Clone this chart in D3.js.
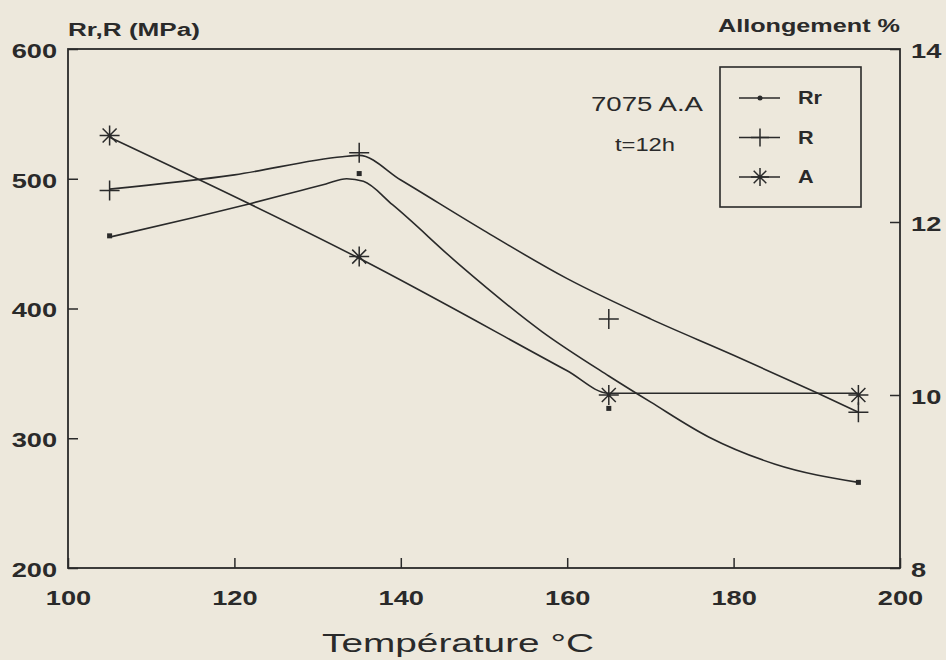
<!DOCTYPE html>
<html>
<head>
<meta charset="utf-8">
<script src="https://cdnjs.cloudflare.com/ajax/libs/d3/7.8.5/d3.min.js"></script>
<style>
    body { margin: 0; background: #ede8dc; }
    svg { display: block; }
    text { font-family: "Liberation Sans", Arial, sans-serif; fill: #2a2a2a; }
</style>
</head>
<body>
<div id="chart"></div>
<script>

// measured points
var temps = [105, 135, 165, 195];
var rrValues = [456, 504, 323, 266];
var rValues = [491, 520, 392, 320];
var aValues = [13.0, 11.6, 10.0, 10.0];

// hand drawn fitted curves
var rrCurveT = [105, 115, 122, 128, 131, 133.5, 135.5, 139, 147, 157, 165, 170, 177, 185, 195];
var rrCurveV = [455, 470, 481, 491, 496, 500, 498, 480, 434, 382, 348, 328, 301, 280, 266];
var rCurveT = [105, 120, 133, 135, 140, 150, 160, 170, 180, 190, 195];
var rCurveV = [492, 503, 517, 518, 499, 460, 423, 392, 364, 335, 320];
var aCurveT = [105, 135, 160, 165, 195];
var aCurveV = [12.98, 11.58, 10.28, 10.02, 10.02];

var xTicks = [100, 120, 140, 160, 180, 200];
var yTicks = [200, 300, 400, 500, 600];
var aTicks = [8, 10, 12, 14];

var seriesNames = ['Rr', 'R', 'A'];

var width = 946;
var height = 660;
var margin = { top: 49, right: 46, bottom: 92, left: 68 };
var stretch = 1.38;
var ink = '#2a2a2a';

var svg = d3.select('#chart')
    .append('svg')
    .attr('width', width)
    .attr('height', height);

svg.append('rect')
    .attr('width', width)
    .attr('height', height)
    .attr('fill', '#ede8dc');

var g = svg.append('g')
    .attr('transform', 'translate(' + margin.left + ',' + margin.top + ')');

width = width - margin.left - margin.right;
height = height - margin.top - margin.bottom;

var x_scale = d3.scaleLinear().domain([100, 200]).range([0, width]);
var y_scale = d3.scaleLinear().domain([200, 600]).range([height, 0]);
var a_scale = d3.scaleLinear().domain([8, 14]).range([height, 0]);

// the scanned lettering is wide, stretch text horizontally
function widen(sel, k) {
    sel.each(function() {
        var w = this.getComputedTextLength();
        d3.select(this)
            .attr('textLength', w * k)
            .attr('lengthAdjust', 'spacingAndGlyphs');
    });
}

function styleAxis(ax) {
    ax.select('.domain').remove();
    ax.attr('font-family', null).attr('font-size', null);
    ax.selectAll('line').attr('stroke', ink).attr('stroke-width', 1.5);
    ax.selectAll('text')
        .style('font-size', '20px')
        .style('font-weight', 'bold')
        .attr('fill', ink)
        .call(widen, 1.36);
}

var xAxis = g.append('g')
    .attr('transform', 'translate(0,' + height + ')')
    .call(d3.axisBottom(x_scale).tickValues(xTicks).tickSize(-10).tickPadding(23));
styleAxis(xAxis);

var yAxis = g.append('g')
    .call(d3.axisLeft(y_scale).tickValues(yTicks).tickSize(-10).tickPadding(11));
styleAxis(yAxis);
yAxis.selectAll('text').attr('dy', '0.42em');

var aAxis = g.append('g')
    .attr('transform', 'translate(' + width + ',0)')
    .call(d3.axisRight(a_scale).tickValues(aTicks).tickFormat(d3.format('d')).tickSize(-10).tickPadding(11));
styleAxis(aAxis);
aAxis.selectAll('text').attr('dy', '0.4em');

// frame
g.append('rect')
    .attr('x', x_scale(100))
    .attr('y', y_scale(600))
    .attr('width', x_scale(200) - x_scale(100))
    .attr('height', y_scale(200) - y_scale(600))
    .attr('fill', 'none')
    .attr('stroke', ink)
    .attr('stroke-width', 1.8);

// curves
function zip(ts, vs) {
    return ts.map(function(t, i) { return { t: t, v: vs[i] }; });
}

function curveLine(scale) {
    return d3.line()
        .x(function(d) { return x_scale(d.t); })
        .y(function(d) { return scale(d.v); })
        .curve(d3.curveMonotoneX);
}

var curves = [
    { data: zip(rrCurveT, rrCurveV), scale: y_scale },
    { data: zip(rCurveT, rCurveV), scale: y_scale },
    { data: zip(aCurveT, aCurveV), scale: a_scale }
];

curves.forEach(function(c) {
    g.append('path')
        .datum(c.data)
        .attr('fill', 'none')
        .attr('stroke', ink)
        .attr('stroke-width', 1.6)
        .attr('d', curveLine(c.scale));
});

// markers
var plusPath = 'M-10,0H10M0,-10V10';
var starPath = 'M-10,0H10M0,-10V10M-7,-7L7,7M-7,7L7,-7';

function drawMarker(sel, kind, size) {
    if (kind === 'Rr') {
        sel.append('rect')
            .attr('x', -2.5 * size).attr('y', -2.5 * size)
            .attr('width', 5 * size).attr('height', 5 * size)
            .attr('fill', ink);
    } else {
        sel.append('path')
            .attr('d', kind === 'R' ? plusPath : starPath)
            .attr('transform', 'scale(' + size + ')')
            .attr('fill', 'none')
            .attr('stroke', ink)
            .attr('stroke-width', 1.5 / size);
    }
}

var points = [
    { name: 'Rr', values: rrValues, scale: y_scale },
    { name: 'R', values: rValues, scale: y_scale },
    { name: 'A', values: aValues, scale: a_scale }
];

points.forEach(function(s) {
    g.selectAll('.pt-' + s.name)
        .data(temps)
        .enter()
        .append('g')
        .attr('class', 'pt-' + s.name)
        .attr('transform', function(d, i) {
            return 'translate(' + x_scale(d) + ',' + s.scale(s.values[i]) + ')';
        })
        .each(function() { drawMarker(d3.select(this), s.name, 1); });
});

// legend
var legend = g.append('g')
    .attr('transform', 'translate(' + (x_scale(200) - 180) + ',' + 18 + ')');

legend.append('rect')
    .attr('width', 141)
    .attr('height', 140)
    .attr('fill', 'none')
    .attr('stroke', ink)
    .attr('stroke-width', 1.6);

var item = legend.selectAll('.item')
    .data(seriesNames)
    .enter()
    .append('g')
    .attr('class', 'item')
    .attr('transform', function(d, i) { return 'translate(0,' + (31 + i * 39.5) + ')'; });

item.append('line')
    .attr('x1', 19).attr('x2', 60)
    .attr('stroke', ink)
    .attr('stroke-width', 1.4);

item.append('g')
    .attr('transform', 'translate(40,0)')
    .each(function(d) {
        if (d === 'Rr') {
            d3.select(this).append('circle').attr('r', 2.5).attr('fill', ink);
        } else {
            drawMarker(d3.select(this), d, 0.9);
        }
    });

item.append('text')
    .attr('x', 78)
    .attr('dy', '0.36em')
    .style('font-size', '18px')
    .style('font-weight', 'bold')
    .text(function(d) { return d; })
    .call(widen, 1.2);

// annotations
g.append('text')
    .attr('x', x_scale(200) - 253)
    .attr('y', 62)
    .attr('text-anchor', 'middle')
    .style('font-size', '20px')
    .text('7075 A.A')
    .call(widen, stretch);

g.append('text')
    .attr('x', x_scale(200) - 255)
    .attr('y', 102)
    .attr('text-anchor', 'middle')
    .style('font-size', '19px')
    .text('t=12h')
    .call(widen, 1.25);

// axis titles
svg.append('text')
    .attr('x', margin.left)
    .attr('y', 36)
    .style('font-size', '18px')
    .style('font-weight', 'bold')
    .text('Rr,R (MPa)')
    .call(widen, 1.45);

svg.append('text')
    .attr('x', margin.left + width)
    .attr('y', 32)
    .attr('text-anchor', 'end')
    .style('font-size', '18px')
    .style('font-weight', 'bold')
    .text('Allongement %')
    .call(widen, 1.4);

svg.append('text')
    .attr('x', margin.left + width / 2 - 26)
    .attr('y', margin.top + height + 84)
    .attr('text-anchor', 'middle')
    .style('font-size', '25px')
    .text('Température °C')
    .call(widen, 1.55);

</script>
</body>
</html>
